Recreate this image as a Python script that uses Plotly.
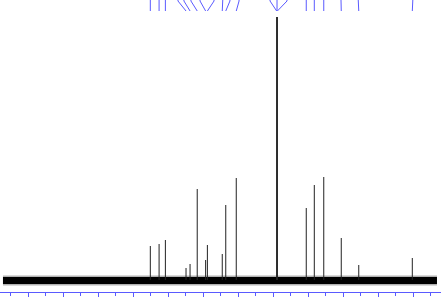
import plotly.graph_objects as go

# Peak positions (ppm) and heights (relative intensity)
peak_ppm = [150.1, 145.1, 141.5, 129.7, 127.4, 123.3, 118.5, 117.5, 109.0, 107.0,
            101.0, 77.9, 77.7, 77.5, 61.0, 56.4, 51.0, 41.0, 31.0, 0.4]
peak_height = [34, 36, 40, 12, 16, 91, 20, 35, 26, 75,
               102, 263, 263, 263, 72, 95, 103, 42, 15, 22]
# Peak-label leader positions (ppm) at the top of the chart
label_ppm = [150.1, 145.1, 141.5, 134.3, 130.9, 126.9, 121.7, 113.7, 108.6, 104.6,
             99.4, 81.7, 77.7, 72.0, 61.0, 56.4, 51.0, 41.2, 31.4, 0.0]

spec_start, spec_end = 234.3, -13.7
x_range = [236, -16]
y_range = [-12, 280]
blue = "#5a5aff"

fig = go.Figure()

# baseline noise band
fig.add_trace(go.Scatter(x=[spec_start, spec_end], y=[-0.5, -0.5], mode="lines",
                         line=dict(color="rgba(0,0,0,0.3)", width=10), hoverinfo="skip"))
fig.add_trace(go.Scatter(x=[spec_start, spec_end], y=[-0.5, -0.5], mode="lines",
                         line=dict(color="black", width=7), hoverinfo="skip"))

# peaks
px, py = [], []
for p, h in zip(peak_ppm, peak_height):
    px += [p, p, None]
    py += [0, h, None]
fig.add_trace(go.Scatter(x=px, y=py, mode="lines",
                         line=dict(color="#222222", width=1), hoverinfo="skip"))

# label leaders
lx, ly = [], []
for p, l in zip(peak_ppm, label_ppm):
    lx += [l, l, p, None]
    ly += [284, 279, 269, None]
fig.add_trace(go.Scatter(x=lx, y=ly, mode="lines",
                         line=dict(color=blue, width=1), hoverinfo="skip"))

fig.update_layout(
    width=441, height=297,
    margin=dict(l=0, r=0, t=0, b=5),
    paper_bgcolor="white", plot_bgcolor="white",
    showlegend=False,
    xaxis=dict(range=x_range, showgrid=False, zeroline=False,
               showline=True, linecolor=blue, linewidth=1,
               ticks="outside", ticklen=5, tickcolor=blue, tickwidth=1,
               tick0=0, dtick=20, showticklabels=False,
               minor=dict(ticks="outside", ticklen=3, tickcolor=blue, dtick=10, tick0=0)),
    yaxis=dict(range=y_range, visible=False, showgrid=False, zeroline=False),
)

fig.write_html("out.html")
